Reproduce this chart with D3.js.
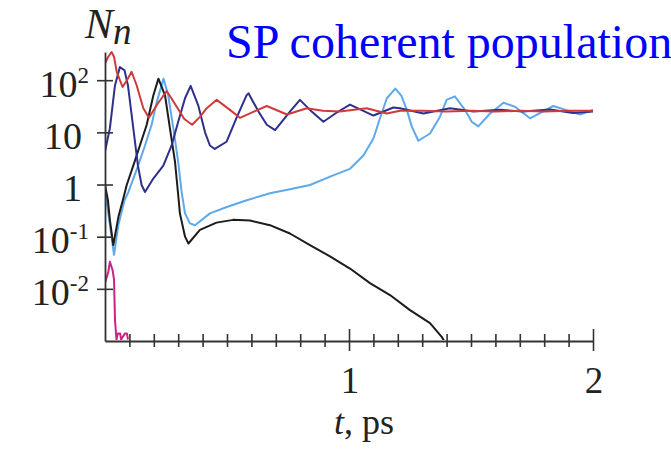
<!DOCTYPE html>
<html>
<head>
<meta charset="utf-8">
<script src="https://cdn.jsdelivr.net/npm/d3@7"></script>
<style>
  body { margin: 0; background: #fff; }
  svg { display: block; }
  text { font-family: "Liberation Serif", "Times New Roman", serif; fill: #222; }
</style>
</head>
<body>
<svg width="671" height="449"></svg>
<script>
// values: [t in ps, N_n]
const redSeries = [
  [0, 209], [0.012, 275], [0.027, 347], [0.037, 282], [0.048, 145], [0.072, 74], [0.09, 100],
  [0.109, 145], [0.13, 79], [0.157, 29], [0.18, 19], [0.215, 35], [0.253, 62], [0.294, 31],
  [0.325, 18], [0.357, 14], [0.39, 20], [0.417, 29], [0.458, 42], [0.512, 27], [0.553, 19],
  [0.61, 25], [0.663, 32], [0.746, 22], [0.827, 29], [0.893, 26], [0.963, 25], [1.072, 29],
  [1.155, 23], [1.209, 26], [1.3, 26], [1.4, 25], [1.5, 26], [1.6, 25], [1.7, 26], [1.8, 25],
  [1.9, 26], [2.0, 26]
]
const navySeries = [
  [0, 4.3], [0.02, 12], [0.041, 80], [0.061, 178], [0.08, 155], [0.094, 80], [0.115, 13],
  [0.135, 2.3], [0.15, 0.98], [0.164, 0.72], [0.198, 1.3], [0.239, 2.3], [0.273, 5.6],
  [0.3, 16], [0.328, 45], [0.351, 78], [0.382, 33], [0.41, 10], [0.43, 5.6], [0.45, 4.8],
  [0.498, 6.6], [0.539, 19], [0.58, 51], [0.588, 56], [0.629, 25], [0.663, 14], [0.697, 11],
  [0.758, 25], [0.799, 42], [0.847, 25], [0.895, 16], [0.95, 24], [1.004, 34], [1.05, 27],
  [1.1, 21], [1.182, 30], [1.209, 29], [1.305, 23], [1.414, 29], [1.51, 25], [1.619, 27],
  [1.713, 25], [1.824, 27.5], [1.918, 23.5], [2.0, 25]
]
const blackSeries = [
  [0, 0.98], [0.012, 0.5], [0.02, 0.21], [0.034, 0.069], [0.055, 0.24], [0.075, 0.54],
  [0.089, 0.98], [0.116, 2.3], [0.143, 5.6], [0.171, 14], [0.198, 51], [0.219, 107],
  [0.246, 51], [0.266, 12], [0.287, 2.7], [0.3, 0.63], [0.307, 0.28], [0.328, 0.1],
  [0.342, 0.074], [0.389, 0.135], [0.457, 0.186], [0.525, 0.21], [0.594, 0.204],
  [0.676, 0.166], [0.758, 0.115], [0.84, 0.069], [0.922, 0.042], [1.004, 0.0245],
  [1.086, 0.0129], [1.168, 0.0076], [1.25, 0.0039], [1.332, 0.0022], [1.38, 0.0012], [1.39, 0.001]
]
const lightBlueSeries = [
  [0, 0.8], [0.02, 0.17], [0.037, 0.045], [0.055, 0.17], [0.08, 0.5], [0.096, 0.72],
  [0.131, 2.0], [0.164, 5.6], [0.191, 14], [0.212, 38], [0.24, 107], [0.259, 51], [0.28, 12],
  [0.3, 2.7], [0.314, 0.72], [0.328, 0.28], [0.348, 0.18], [0.369, 0.166], [0.43, 0.28],
  [0.499, 0.37], [0.581, 0.5], [0.676, 0.68], [0.758, 0.81], [0.84, 0.98], [0.935, 1.5],
  [1.004, 2.0], [1.059, 3.6], [1.1, 7.6], [1.127, 18.6], [1.155, 45], [1.19, 69], [1.215, 50],
  [1.237, 27], [1.257, 13], [1.284, 6.9], [1.332, 9.5], [1.373, 20], [1.4, 42], [1.434, 49],
  [1.475, 27], [1.503, 16], [1.53, 13], [1.578, 23], [1.633, 37], [1.68, 31], [1.742, 18.6],
  [1.837, 32], [1.947, 22], [2.0, 27]
]
const magentaSeries = [
  [0, 0.013], [0.0135, 0.021], [0.02, 0.033], [0.031, 0.023], [0.037, 0.015], [0.041, 0.0025],
  [0.047, 0.00107], [0.053, 0.0014], [0.062, 0.0014], [0.066, 0.00107], [0.082, 0.0014],
  [0.09, 0.0014], [0.094, 0.00107]
]

const xTicks = d3.range(1, 21).map(i => i / 10)
const xLabels = [1, 2]
const yTicks = [100, 10, 1, 0.1, 0.01]
const yLabels = [['10', '2'], ['10', ''], ['1', ''], ['10', '-1'], ['10', '-2']]

const series = [
  { data: lightBlueSeries, color: '#5ea9ea' },
  { data: blackSeries, color: '#1c1c1c' },
  { data: navySeries, color: '#2f2f8c' },
  { data: redSeries, color: '#cf3a3a' },
  { data: magentaSeries, color: '#cc2288' }
]

const svg = d3.select('svg')

const x = d3.scaleLinear().domain([0, 2]).range([105, 593])
const y = d3.scaleLog().domain([1e-3, 347]).range([341, 52])

svg.append('clipPath').attr('id', 'plot')
  .append('rect')
    .attr('x', x(0)).attr('y', y(347) - 2)
    .attr('width', x(2) - x(0) + 2).attr('height', y(1e-3) - y(347) + 1)

const line = d3.line()
  .x(d => x(d[0]))
  .y(d => y(d[1]))

const curves = svg.append('g').attr('clip-path', 'url(#plot)')
series.forEach(s => {
  curves.append('path')
    .attr('d', line(s.data))
    .attr('fill', 'none')
    .attr('stroke', s.color)
    .attr('stroke-width', 2)
    .attr('stroke-linejoin', 'round')
})

// x axis, ticks cross the line
const xAxis = svg.append('g')
  .attr('transform', `translate(0, ${y(1e-3)})`)
  .call(d3.axisBottom(x).tickValues(xTicks).tickFormat('').tickSizeOuter(0))
xAxis.select('.domain').attr('stroke', '#333').attr('stroke-width', 1.8)
xAxis.selectAll('.tick line')
  .attr('stroke', '#333').attr('stroke-width', 1.6)
  .attr('y1', d => xLabels.includes(d) ? -12 : -7)
  .attr('y2', d => xLabels.includes(d) ? 10 : 6)

svg.selectAll('.xlab').data(xLabels)
  .enter().append('text')
    .attr('class', 'xlab')
    .attr('x', d => x(d) + 1)
    .attr('y', 393)
    .attr('text-anchor', 'middle')
    .attr('font-size', 37)
    .text(d => d)

// y axis
const yAxis = svg.append('g')
  .attr('transform', `translate(${x(0)}, 0)`)
  .call(d3.axisLeft(y).tickValues(yTicks).tickFormat('').tickSizeOuter(0))
yAxis.select('.domain').attr('stroke', '#333').attr('stroke-width', 1.8)
yAxis.selectAll('.tick line')
  .attr('stroke', '#333').attr('stroke-width', 1.6)
  .attr('x1', -8).attr('x2', 8)

const yl = svg.selectAll('.ylab').data(yTicks)
  .enter().append('text')
    .attr('class', 'ylab')
    .attr('x', (d, i) => x(0) - (yLabels[i][1] ? 16 : 23))
    .attr('y', d => y(d) + 16.5)
    .attr('text-anchor', 'end')
    .attr('font-size', 38)
yl.append('tspan').text((d, i) => yLabels[i][0])
yl.append('tspan')
  .attr('dy', -14)
  .attr('font-size', 23)
  .text((d, i) => yLabels[i][1])

// axis titles
const nLab = svg.append('text').attr('x', 85).attr('y', 38)
nLab.append('tspan').attr('font-style', 'italic').attr('font-size', 42).text('N')
nLab.append('tspan').attr('font-style', 'italic').attr('font-size', 37).attr('dy', 6).text('n')

const tLab = svg.append('text').attr('x', 364).attr('y', 434)
  .attr('text-anchor', 'middle').attr('font-size', 36)
tLab.append('tspan').attr('font-style', 'italic').text('t')
tLab.append('tspan').text(', ps')

svg.append('text')
  .attr('x', 226).attr('y', 58)
  .attr('font-size', 48)
  .style('fill', '#0000ff')
  .text('SP coherent population')
</script>
</body>
</html>
